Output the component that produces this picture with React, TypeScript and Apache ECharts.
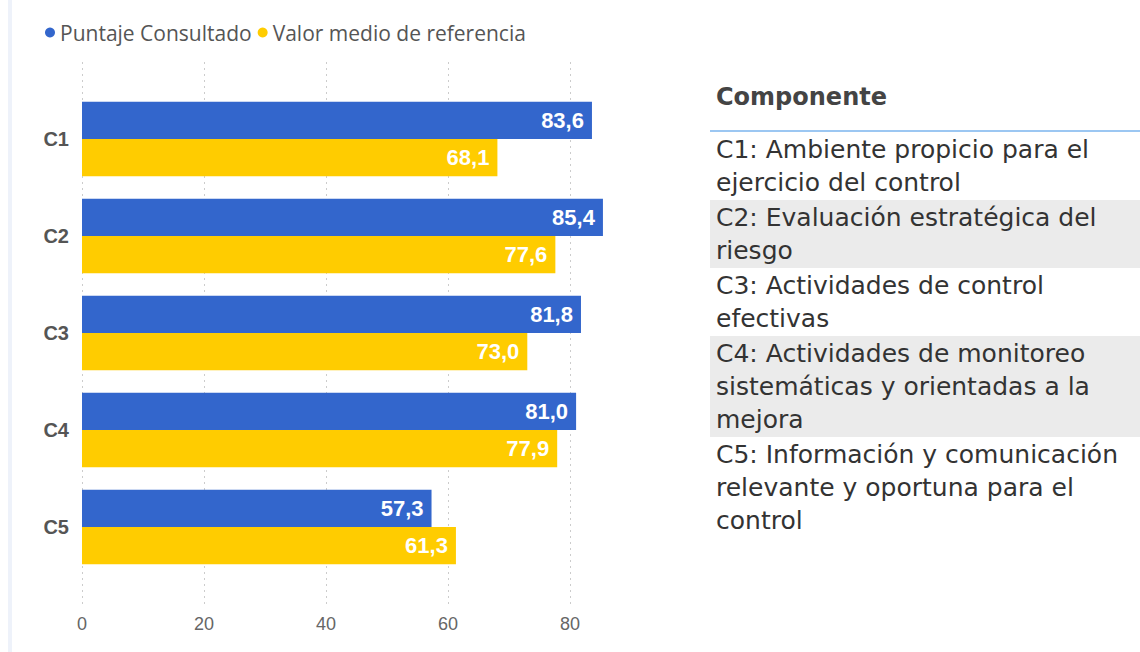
import React, { useEffect, useRef } from "react";
import * as echarts from "echarts";

const categories = ["C1", "C2", "C3", "C4", "C5"];
const puntaje = [83.6, 85.4, 81.8, 81.0, 57.3];
const referencia = [68.1, 77.6, 73.0, 77.9, 61.3];
const seriesNames = ["Puntaje Consultado", "Valor medio de referencia"];
const tableTitle = "Componente";
const components = [
  "C1: Ambiente propicio para el\nejercicio del control",
  "C2: Evaluación estratégica del\nriesgo",
  "C3: Actividades de control\nefectivas",
  "C4: Actividades de monitoreo\nsistemáticas y orientadas a la\nmejora",
  "C5: Información y comunicación\nrelevante y oportuna para el\ncontrol",
];

const BLUE = "#3366CC";
const YELLOW = "#FFCC00";
const ARIAL = "Arial";
const DEJAVU = "DejaVu Sans";

export default function App() {
  const ref = useRef<HTMLDivElement>(null);
  useEffect(() => {
    if (!ref.current) return;
    const chart = echarts.init(ref.current, null, { renderer: "svg" });
    const fmt = (p: any) => Number(p.value).toFixed(1).replace(".", ",");

    const lineH = 33;
    const graphics: any[] = [
      { type: "rect", shape: { x: 8, y: 0, width: 4, height: 652 }, style: { fill: "#EEF2FA" } },
      {
        type: "text",
        x: 716,
        y: 97,
        style: {
          text: tableTitle,
          fontFamily: DEJAVU,
          fontSize: 24,
          fontWeight: "bold",
          fill: "#444",
          verticalAlign: "middle",
        },
      },
      { type: "rect", shape: { x: 710, y: 130, width: 430, height: 2 }, style: { fill: "#9CC7F2" } },
    ];
    let top = 132;
    components.forEach((c, i) => {
      const n = c.split("\n").length;
      const h = n * lineH + 2;
      if (i % 2 === 1) {
        graphics.push({ type: "rect", shape: { x: 710, y: top, width: 430, height: h }, style: { fill: "#EBEBEB" } });
      }
      graphics.push({
        type: "text",
        x: 716,
        y: top + 1,
        style: {
          text: c,
          fontFamily: DEJAVU,
          fontSize: 25,
          lineHeight: lineH,
          fill: "#333",
          verticalAlign: "top",
        },
      });
      top += h;
    });

    const labelStyle = {
      show: true,
      position: "insideRight",
      distance: 8,
      color: "#fff",
      fontSize: 22,
      fontWeight: "bold",
      fontFamily: ARIAL,
      formatter: fmt,
    };

    chart.setOption({
      animation: false,
      legend: {
        left: 40,
        top: 17,
        icon: "circle",
        itemWidth: 10,
        itemHeight: 10,
        itemGap: 6,
        textStyle: { fontFamily: "Open Sans", fontSize: 21, color: "#555" },
        data: seriesNames,
      },
      grid: [
        { left: 82, right: 570, top: 62, bottom: 44 },
        { left: 82, right: 509, top: 90.5, bottom: 76.5 },
      ],
      xAxis: [
        {
          gridIndex: 0,
          type: "value",
          min: 0,
          max: 80,
          interval: 20,
          axisLine: { show: false },
          axisTick: { show: false },
          axisLabel: { color: "#666", fontSize: 18, fontFamily: ARIAL, margin: 7 },
          splitLine: { show: true, lineStyle: { color: "#CCCCCC", type: [2, 4], width: 1 } },
        },
        {
          gridIndex: 1,
          type: "value",
          min: 0,
          max: 90,
          show: false,
          splitLine: { show: false },
        },
      ],
      yAxis: [
        {
          gridIndex: 0,
          type: "category",
          data: categories,
          show: false,
        },
        {
          gridIndex: 1,
          type: "category",
          data: categories,
          inverse: true,
          axisLine: { show: false },
          axisTick: { show: false },
          axisLabel: {
            color: "#555",
            fontSize: 20,
            fontWeight: "bold",
            fontFamily: ARIAL,
            margin: 13,
          },
        },
      ],
      series: [
        {
          name: seriesNames[0],
          type: "bar",
          xAxisIndex: 1,
          yAxisIndex: 1,
          data: puntaje,
          itemStyle: { color: BLUE },
          barGap: "0%",
          barCategoryGap: "23%",
          label: labelStyle,
        },
        {
          name: seriesNames[1],
          type: "bar",
          xAxisIndex: 1,
          yAxisIndex: 1,
          data: referencia,
          itemStyle: { color: YELLOW },
          barGap: "0%",
          barCategoryGap: "23%",
          label: labelStyle,
        },
      ],
      graphic: graphics,
    });
    return () => chart.dispose();
  }, []);
  return (
    <div
      ref={ref}
      style={{ position: "fixed", left: 0, top: 0, width: 1140, height: 652, background: "#fff" }}
    />
  );
}
